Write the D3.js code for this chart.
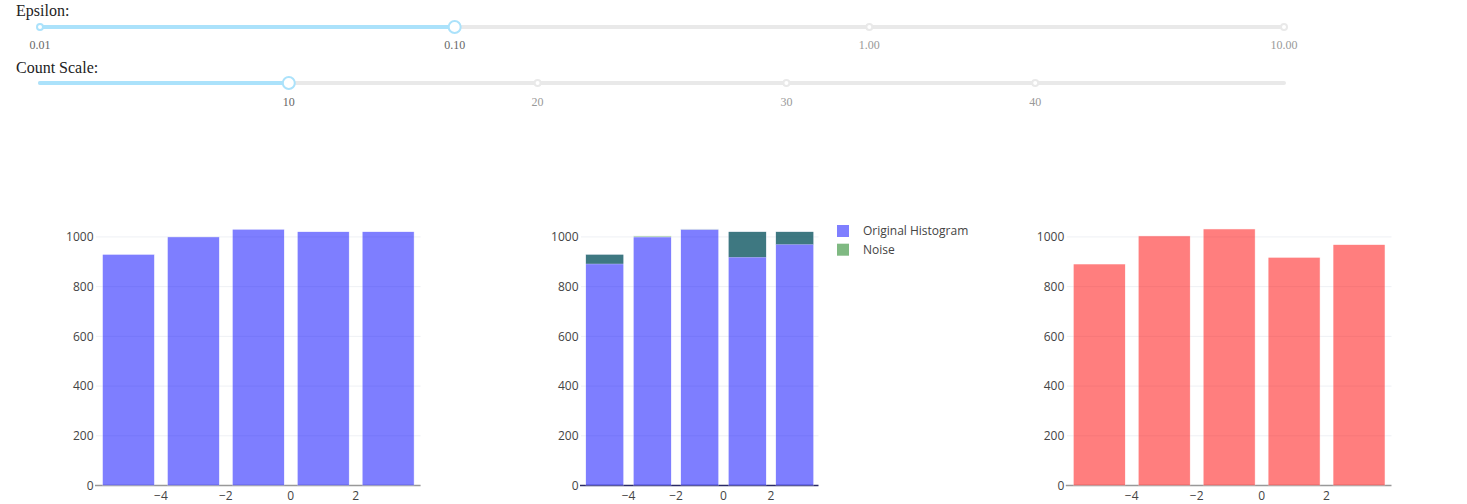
<!DOCTYPE html>
<html>
<head>
<meta charset="utf-8">
<script src="https://cdn.jsdelivr.net/npm/d3@7"></script>
<style>
  html, body { margin: 0; padding: 0; background: #fff; }
  svg { display: block; }
</style>
</head>
<body>
<svg id="chart" width="1467" height="504"></svg>
<script>
// ---- data ----
const binCenters = [-5, -3, -1, 1, 3];
const originalHist = [930, 1000, 1031, 1021, 1021];
const noisyHist = [891, 1004, 1032, 918, 969];
const xTicks = [-4, -2, 0, 2];
const yTicks = [0, 200, 400, 600, 800, 1000];
const legendLabels = ["Original Histogram", "Noise"];

const epsilonMarks = [0.01, 0.1, 1, 10];
const epsilonMarkLabels = ["0.01", "0.10", "1.00", "10.00"];
const epsilonValue = 0.1;
const countMarks = [10, 20, 30, 40];
const countMarkLabels = ["10", "20", "30", "40"];
const countValue = 10;

// ---- setup ----
const svg = d3.select("#chart");
const chartFont = "'Open Sans', verdana, arial, sans-serif";
const serifFont = "'Liberation Serif', 'Times New Roman', serif";
const noiseColor = "rgb(0,116,6)";

// ---- sliders ----
function drawSlider(opts) {
  const g = svg.append("g");
  g.append("text").attr("x", 16).attr("y", opts.labelY)
    .attr("font-family", serifFont).attr("font-size", 16).attr("fill", "#222")
    .text(opts.label);
  const s = opts.scale;
  const [r0, r1] = s.range();
  g.append("line").attr("x1", r0).attr("x2", r1).attr("y1", opts.y).attr("y2", opts.y)
    .attr("stroke", "#e9e9e9").attr("stroke-width", 4).attr("stroke-linecap", "round");
  g.append("line").attr("x1", r0).attr("x2", s(opts.value)).attr("y1", opts.y).attr("y2", opts.y)
    .attr("stroke", "#abe2fb").attr("stroke-width", 4).attr("stroke-linecap", "round");
  opts.dots.forEach(d => {
    g.append("circle").attr("cx", s(d)).attr("cy", opts.y).attr("r", 3)
      .attr("fill", "#fff").attr("stroke", d <= opts.value ? "#abe2fb" : "#e9e9e9").attr("stroke-width", 2);
  });
  opts.marks.forEach((m, i) => {
    g.append("text").attr("x", s(m)).attr("y", opts.markY).attr("text-anchor", "middle")
      .attr("font-family", serifFont).attr("font-size", 12)
      .attr("fill", m <= opts.value ? "#666" : "#999").text(opts.markLabels[i]);
  });
  g.append("circle").attr("cx", s(opts.value)).attr("cy", opts.y).attr("r", 6)
    .attr("fill", "#fff").attr("stroke", "#abe2fb").attr("stroke-width", 2);
}

drawSlider({
  label: "Epsilon:", labelY: 16, y: 27, markY: 49,
  scale: d3.scaleLog().domain([0.01, 10]).range([40, 1284]),
  value: epsilonValue, marks: epsilonMarks, markLabels: epsilonMarkLabels,
  dots: [0.01, 1, 10]
});
drawSlider({
  label: "Count Scale:", labelY: 73, y: 83, markY: 106,
  scale: d3.scaleLinear().domain([0, 50]).range([40, 1284]),
  value: countValue, marks: countMarks, markLabels: countMarkLabels,
  dots: [20, 30, 40]
});

// ---- bar charts ----
const yScale = d3.scaleLinear().domain([0, 1085]).range([485.5, 215.8]);
const binWidth = 2, barFrac = 0.8;

function drawPanel(x0, x1, axisColor) {
  const x = d3.scaleLinear().domain([-6, 4]).range([x0, x1]);
  const g = svg.append("g");
  g.selectAll(".grid").data(yTicks.filter(t => t > 0)).join("line")
    .attr("x1", x0).attr("x2", x1)
    .attr("y1", d => yScale(d)).attr("y2", d => yScale(d))
    .attr("stroke", "#eef0f4").attr("stroke-width", 1);
  g.selectAll(".yl").data(yTicks).join("text")
    .attr("x", x0 - 2.5).attr("y", d => yScale(d) + 4.3)
    .attr("text-anchor", "end").attr("font-family", chartFont).attr("font-size", 12)
    .attr("fill", "#444").text(d => d3.format("d")(d));
  g.selectAll(".xl").data(xTicks).join("text")
    .attr("x", d => x(d)).attr("y", 500)
    .attr("text-anchor", "middle").attr("font-family", chartFont).attr("font-size", 12)
    .attr("fill", "#444").text(d => d3.format("d")(d));
  return { x, g, axis: () => g.append("line").attr("x1", x0 - 1).attr("x2", x1)
      .attr("y1", yScale(0)).attr("y2", yScale(0))
      .attr("stroke", axisColor).attr("stroke-width", 1.5) };
}

function bars(panel, values, base, color) {
  const bw = binWidth * barFrac;
  const x = panel.x;
  const gb = panel.g.append("g").attr("opacity", 0.5);
  gb.selectAll("rect").data(binCenters).join("rect")
    .attr("x", d => x(d - bw / 2))
    .attr("width", d => x(d + bw / 2) - x(d - bw / 2))
    .attr("y", (d, i) => yScale(Math.max(values[i], base[i])))
    .attr("height", (d, i) => Math.abs(yScale(base[i]) - yScale(values[i])))
    .attr("fill", color).attr("stroke", "#fff").attr("stroke-width", 0.5);
}

const zeros = binCenters.map(() => 0);

// left: original histogram
const pL = drawPanel(96, 420.6, "#999");
pL.axis();
bars(pL, originalHist, zeros, "blue");

// middle: original + noise
const pM = drawPanel(581, 818.5, "#2a2a66");
pM.axis();
bars(pM, originalHist, zeros, "blue");
bars(pM, originalHist, noisyHist, noiseColor);

// right: noisy histogram
const pR = drawPanel(1066.8, 1391.5, "#999");
pR.axis();
bars(pR, noisyHist, zeros, "red");

// legend
const legendColors = ["blue", noiseColor];
const lg = svg.append("g");
legendLabels.forEach((lab, i) => {
  const cy = 231 + i * 18.7;
  lg.append("rect").attr("x", 837).attr("y", cy - 6).attr("width", 12).attr("height", 12)
    .attr("fill", legendColors[i]).attr("opacity", 0.5);
  lg.append("text").attr("x", 863).attr("y", cy + 4.2)
    .attr("font-family", chartFont).attr("font-size", 12).attr("fill", "#444").text(lab);
});
</script>
</body>
</html>
